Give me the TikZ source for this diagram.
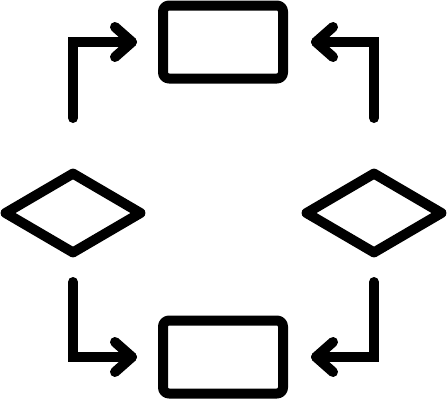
\documentclass[tikz,border=0pt]{standalone}
\usetikzlibrary{shapes.geometric}
\begin{document}
\begin{tikzpicture}[x=1pt,y=-1pt,
  ln/.style={line width=10pt,line cap=round,line join=round},
  box/.style={draw,ln,rectangle,rounded corners=6pt,minimum width=120pt,minimum height=73pt,inner sep=0pt},
  dia/.style={draw,ln,diamond,minimum width=139pt,minimum height=83pt,inner sep=0pt},
  conn/.style={ln,line join=miter}]
\useasboundingbox (0,0) rectangle (447,400);
\node[box] (top) at (223,42) {};
\node[box] (bot) at (223,357) {};
\node[dia] (left) at (73,213) {};
\node[dia] (right) at (374,213) {};
% top-left arrow
\coordinate (a1) at (73,118); \coordinate (a2) at (73,42); \coordinate (a3) at (132,42);
\draw[conn] (a1) -- (a2) -- (a3);
\draw[ln] ([shift={(-17,-15)}]a3) -- (a3) -- ([shift={(-17,15)}]a3);
% top-right arrow
\coordinate (b1) at (374,118); \coordinate (b2) at (374,42); \coordinate (b3) at (316,42);
\draw[conn] (b1) -- (b2) -- (b3);
\draw[ln] ([shift={(17,-15)}]b3) -- (b3) -- ([shift={(17,15)}]b3);
% bottom-left arrow
\coordinate (c1) at (73,282); \coordinate (c2) at (73,357); \coordinate (c3) at (132,357);
\draw[conn] (c1) -- (c2) -- (c3);
\draw[ln] ([shift={(-17,-15)}]c3) -- (c3) -- ([shift={(-17,15)}]c3);
% bottom-right arrow
\coordinate (d1) at (374,282); \coordinate (d2) at (374,357); \coordinate (d3) at (316,357);
\draw[conn] (d1) -- (d2) -- (d3);
\draw[ln] ([shift={(17,-15)}]d3) -- (d3) -- ([shift={(17,15)}]d3);
\end{tikzpicture}
\end{document}
